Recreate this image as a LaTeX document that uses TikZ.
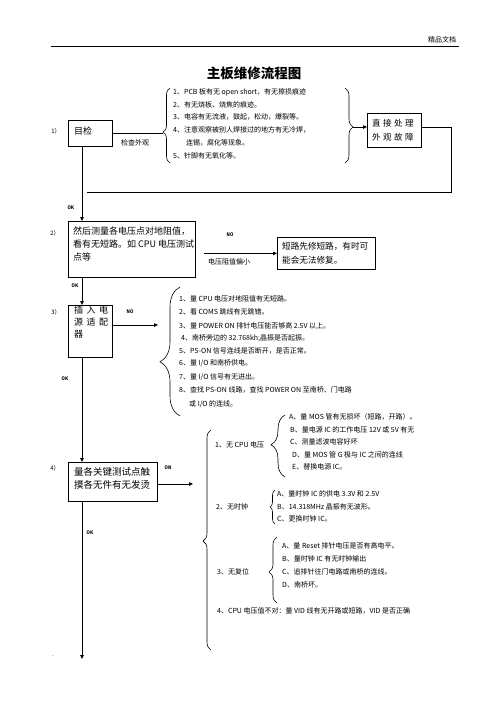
\documentclass[tikz,border=0pt]{standalone}
\usepackage{fontspec}
\setmainfont{Noto Sans CJK SC}
\setmonofont{Liberation Mono}
\usetikzlibrary{arrows.meta,decorations.pathreplacing}
\begin{document}
\begin{tikzpicture}[x=1pt,y=-1pt,
  box/.style={draw,line width=0.8pt,inner sep=0pt,anchor=north west},
  txt/.style={anchor=west,inner sep=0pt,font=\fontsize{7}{8}\selectfont},
  btxt/.style={anchor=west,inner sep=0pt,font=\fontsize{9}{10}\selectfont},
  lbl/.style={inner sep=0pt,font=\fontsize{5.5}{6}\ttfamily\bfseries},
  num/.style={inner sep=0pt,font=\fontsize{6}{7}\selectfont},
  conn/.style={line width=0.8pt},
  arr/.style={line width=0.8pt,-{Triangle[length=4pt,width=3.5pt]}},
  brc/.style={decorate,line width=0.6pt},
]
\useasboundingbox (0,0) rectangle (496,702);
\coordinate (vx) at (82,0);

% header
\node[inner sep=0pt,font=\fontsize{7}{8}\selectfont] (hdr) at (442,40) {精品文档};
\coordinate (hl) at (51,46);
\coordinate (hr) at (459,46);
\draw[line width=0.8pt] (hl) -- (hr);
\node[inner sep=0pt,font=\fontsize{13.5}{15}\selectfont\bfseries] (title) at (254,73) {主板维修流程图};

% step 1
\node[num] (n1) at (56,131) {1）};
\node[box,minimum width=44pt,minimum height=26pt] (b1) at (68,120) {};
\node[btxt] (b1t) at (74,131) {目检};
\node[inner sep=0pt,font=\fontsize{7}{8}\selectfont] (chk) at (135,143) {检查外观};
\coordinate (br1tip) at (163,133);
\draw[conn] (b1.east |- br1tip) -- (br1tip);
\draw[brc,decoration={brace,amplitude=7pt,aspect=0.41}] (170,163) -- (170,88);
\node[txt] (t1a) at (173,92) {1、PCB 板有无 open short，有无擦损痕迹};
\node[txt] (t1b) at (173,105) {2、有无烧板、烧焦的痕迹。};
\node[txt] (t1c) at (173,117) {3、电容有无流液，鼓起，松动，爆裂等。};
\node[txt] (t1d) at (173,130) {4、注意观察被别人焊接过的地方有无冷焊，};
\node[txt] (t1e) at (186,143) {连锡，腐化等现象。};
\node[txt] (t1f) at (173,156) {5、针脚有无氧化等。};
\draw[brc,decoration={brace,amplitude=8pt,aspect=0.52}] (345,88) -- (345,163);
\coordinate (br1rtip) at (353,127);
\node[box,minimum width=54pt,minimum height=34pt] (b1r) at (367,113) {};
\node[inner sep=0pt,anchor=west,font=\fontsize{8.5}{10}\selectfont] (b1rt1) at (372,123) {直\hspace{2.5pt}接\hspace{2.5pt}处\hspace{2.5pt}理};
\node[inner sep=0pt,anchor=west,font=\fontsize{8.5}{10}\selectfont] (b1rt2) at (372,137) {外\hspace{2.5pt}观\hspace{2.5pt}故\hspace{2.5pt}障};
\draw[arr] (br1rtip) -- (b1r.west |- br1rtip);
\coordinate (r1) at (451,127);
\coordinate (r2) at (451,192);
\coordinate (r3) at (87,192);
\draw[conn] (b1r.east |- r1) -- (r1) -- (r2) -- (r3);

% step 2
\node[lbl] (ok1) at (71,208) {OK};
\node[num] (n2) at (55,233) {2）};
\node[box,minimum width=127pt,minimum height=56pt] (b2) at (68,221) {};
\draw[arr] (b1.south -| vx) -- (b2.north -| vx);
\node[btxt] (b2t1) at (73,231) {然后测量各电压点对地阻值，};
\node[btxt] (b2t2) at (73,244) {看有无短路。如 CPU 电压测试};
\node[btxt] (b2t3) at (73,257) {点等};
\node[box,minimum width=98pt,minimum height=32pt] (b2r) at (277,237) {};
\node[inner sep=0pt,anchor=west,font=\fontsize{8.6}{10}\selectfont] (b2rt1) at (282,246) {短路先修短路，有时可};
\node[inner sep=0pt,anchor=west,font=\fontsize{8.6}{10}\selectfont] (b2rt2) at (282,260) {能会无法修复。};
\draw[arr] ([xshift=8pt]b2.east |- b2r.west) -- (b2r.west);
\node[lbl] (no2) at (230,235) {NO};
\node[inner sep=0pt,font=\fontsize{7}{8}\selectfont] (low) at (229,262) {电压阻值偏小};

% step 3
\node[lbl] (ok2) at (75,286) {OK};
\node[num] (n3) at (56,312) {3）};
\node[box,minimum width=44pt,minimum height=52pt] (b3) at (68,305) {};
\draw[arr] (b2.south -| vx) -- (b3.north -| vx);
\node[btxt] (b3t1) at (74,310) {插\hspace{3.5pt}入\hspace{3.5pt}电};
\node[btxt] (b3t2) at (74,322) {源\hspace{3.5pt}适\hspace{3.5pt}配};
\node[btxt] (b3t3) at (74,334) {器};
\node[lbl] (no3) at (130,312) {NO};
\coordinate (br3end) at (158,325);
\draw[arr] (b3.east |- br3end) -- (br3end);
\draw[brc,decoration={brace,amplitude=20pt,aspect=0.42}] (180,416) -- (180,287);
\node[txt] (t3a) at (179,299) {1、量 CPU 电压对地阻值有无短路。};
\node[txt] (t3b) at (179,312) {2、看 COMS 跳线有无跳错。};
\node[txt] (t3c) at (179,326) {3、量 POWER ON 排针电压能否够高 2.5V 以上。};
\node[txt] (t3d) at (181,338) {4、南桥旁边的 32.768kh;晶振是否起振。};
\node[txt] (t3e) at (179,351) {5、PS-ON 信号连线是否断开，是否正常。};
\node[txt] (t3f) at (179,363) {6、量 I/O 和南桥供电。};
\node[txt] (t3g) at (179,377) {7、量 I/O 信号有无进出。};
\node[txt] (t3h) at (179,390) {8、查找 PS-ON 线路，查找 POWER ON 至南桥、门电路};
\node[txt] (t3i) at (189,404) {或 I/O 的连线。};
\node[lbl] (ok3) at (65,379) {OK};

% step 4
\node[num] (n4) at (55,468) {4）};
\node[box,minimum width=89pt,minimum height=39pt] (b4) at (68,462) {};
\draw[arr] (b3.south -| vx) -- (b4.north -| vx);
\node[inner sep=0pt,anchor=west,font=\fontsize{9.5}{10}\selectfont] (b4t1) at (74,472) {量各关键测试点触};
\node[inner sep=0pt,anchor=west,font=\fontsize{9.5}{10}\selectfont] (b4t2) at (74,485) {摸各无件有无发烫};
\node[lbl] (on4) at (168,468) {ON};
\coordinate (br4end) at (193,484);
\draw[arr] (b4.east |- br4end) -- (br4end);
\node[lbl] (ok4) at (90,533) {OK};
\coordinate (endpt) at (82,659);
\draw[arr] (b4.south -| vx) -- (endpt);
\node[inner sep=0pt,font=\fontsize{6}{7}\selectfont] (dot) at (53,656) {.};

\draw[brc,decoration={brace,amplitude=8pt,aspect=0.495}] (211,650) -- (211,430);

\node[txt] (s1) at (215,445) {1、无 CPU 电压};
\draw[brc,decoration={brace,amplitude=14pt,aspect=0.52}] (285,477) -- (285,415);
\node[txt] (s1a) at (289,417) {A、量 MOS 管有无损坏（短路，开路）。};
\node[txt] (s1b) at (290,430) {B、量电源 IC 的工作电压 12V 或 5V 有无};
\node[txt] (s1c) at (290,442) {C、测量滤波电容好坏};
\node[txt] (s1d) at (292,455) {D、量 MOS 管 G 极与 IC 之间的连线};
\node[txt] (s1e) at (292,467) {E、替换电源 IC。};

\node[txt] (s2) at (216,507) {2、无时钟};
\draw[brc,decoration={brace,amplitude=5pt,aspect=0.5}] (275,524) -- (275,490);
\node[txt] (s2a) at (277,494) {A、量时钟 IC 的供电 3.3V 和 2.5V};
\node[txt] (s2b) at (277,507) {B、14.318MHz 晶振有无波形。};
\node[txt] (s2c) at (277,519) {C、更换时钟 IC。};

\node[txt] (s3) at (217,572) {3、无复位};
\draw[brc,decoration={brace,amplitude=8pt,aspect=0.47}] (277,603) -- (277,537);
\node[txt] (s3a) at (282,546) {A、量 Reset 排针电压是否有高电平。};
\node[txt] (s3b) at (282,559) {B、量时钟 IC 有无时钟输出};
\node[txt] (s3c) at (282,572) {C、追排针往门电路或南桥的连线。};
\node[txt] (s3d) at (282,585) {D、南桥坏。};

\node[txt] (s4) at (217,611) {4、CPU 电压值不对：量 VID 线有无开路或短路，VID 是否正确};
\end{tikzpicture}
\end{document}
